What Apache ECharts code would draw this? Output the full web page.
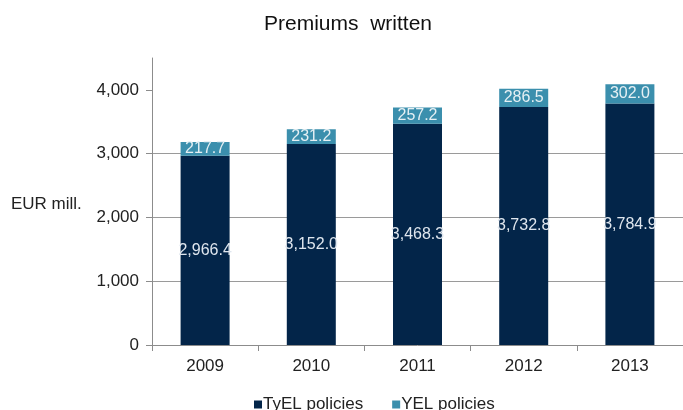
<!DOCTYPE html>
<html>
<head>
<meta charset="utf-8">
<script src="https://cdn.jsdelivr.net/npm/echarts@6/dist/echarts.min.js"></script>
<style>
  html, body { margin: 0; padding: 0; background: #fff; }
  #chart { width: 683px; height: 410px; }
</style>
</head>
<body>
<div id="chart"></div>
<script>
// Premiums written, EUR million, by policy type
const years = ['2009', '2010', '2011', '2012', '2013'];
const tyelValues = [2966.4, 3152.0, 3468.3, 3732.8, 3784.9];
const yelValues = [217.7, 231.2, 257.2, 286.5, 302.0];
const yTicks = [0, 1000, 2000, 3000, 4000];

const FONT = '"Liberation Sans", Arial, sans-serif';
const NARROW = '"Liberation Sans Narrow", "Arial Narrow", sans-serif';
const fmt = v => v.toLocaleString('en-US', { minimumFractionDigits: 1, maximumFractionDigits: 1 });

const chart = echarts.init(document.getElementById('chart'), null, { renderer: 'canvas' });
chart.setOption({
  animation: false,
  textStyle: { fontFamily: FONT },
  title: {
    text: 'Premiums  written',
    left: 264,
    top: 14,
    padding: 0,
    textStyle: { fontFamily: FONT, fontSize: 21, fontWeight: 'normal', color: '#111' }
  },
  legend: {
    top: 396,
    left: 254,
    padding: 0,
    itemWidth: 8,
    itemHeight: 8,
    itemGap: 29,
    icon: 'rect',
    textStyle: { fontFamily: FONT, fontSize: 17, color: '#222', padding: [0, 0, 0, -4] },
    data: ['TyEL policies', 'YEL policies']
  },
  graphic: [{
    type: 'text',
    x: 11,
    y: 204,
    style: { text: 'EUR mill.', font: '17px ' + FONT, fill: '#222', verticalAlign: 'middle' }
  }],
  grid: { left: 152, top: 58, width: 539, height: 287 },
  xAxis: {
    type: 'category',
    data: years,
    axisLine: { lineStyle: { color: '#8c8c8c', width: 1 } },
    axisTick: { show: true, alignWithLabel: false, length: 6, lineStyle: { color: '#8c8c8c' } },
    axisLabel: { fontFamily: FONT, fontSize: 17, color: '#222', margin: 13 }
  },
  yAxis: {
    type: 'value',
    min: 0,
    max: 4500,
    interval: 1000,
    axisLine: { show: true, lineStyle: { color: '#8c8c8c', width: 1 } },
    axisTick: { show: true, length: 6, lineStyle: { color: '#8c8c8c' }, customValues: yTicks },
    axisLabel: {
      fontFamily: FONT, fontSize: 17, color: '#222', margin: 13,
      customValues: yTicks,
      formatter: v => v.toLocaleString('en-US')
    },
    splitLine: { show: true, showMinLine: false, showMaxLine: false, lineStyle: { color: '#9a9a9a', width: 1 } }
  },
  series: [
    {
      name: 'TyEL policies',
      type: 'bar',
      stack: 'total',
      barWidth: 49,
      data: tyelValues,
      itemStyle: { color: '#032549' },
      label: {
        show: true,
        position: 'inside',
        formatter: p => fmt(p.value),
        fontFamily: NARROW, fontSize: 16, color: '#dfe6ee'
      }
    },
    {
      name: 'YEL policies',
      type: 'bar',
      stack: 'total',
      barWidth: 49,
      data: yelValues,
      itemStyle: { color: '#3b8fad' },
      label: {
        show: true,
        position: 'inside',
        formatter: p => fmt(p.value),
        fontFamily: FONT, fontSize: 16, color: '#e6f0f4'
      }
    }
  ]
});
</script>
</body>
</html>
